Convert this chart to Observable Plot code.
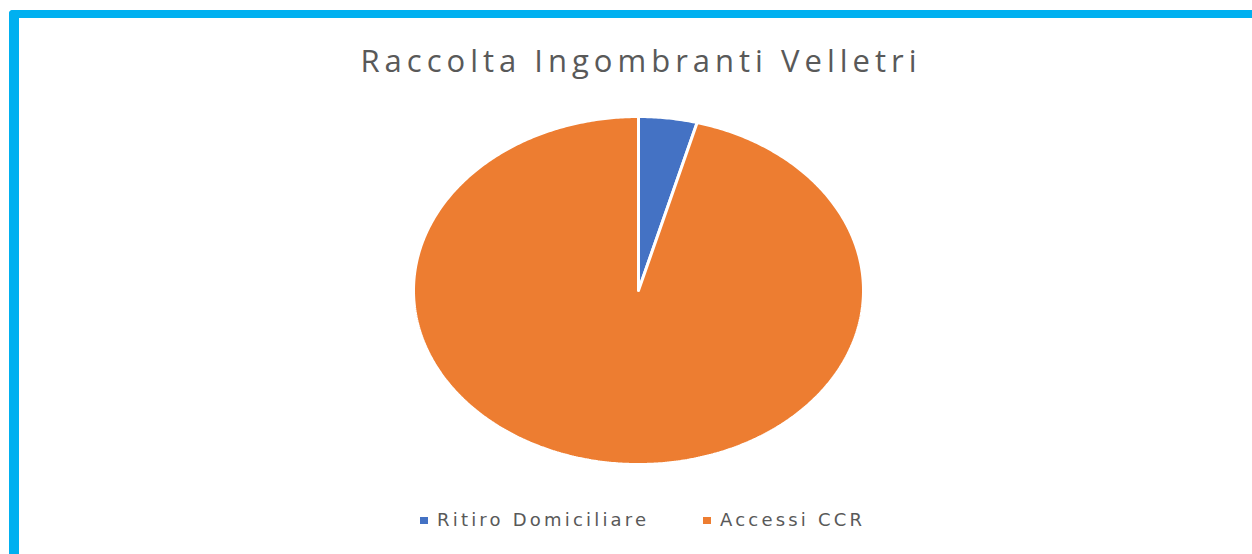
<!DOCTYPE html>
<html>
<head>
<meta charset="utf-8">
<script src="https://cdn.jsdelivr.net/npm/d3@7"></script>
<script src="https://cdn.jsdelivr.net/npm/@observablehq/plot@0.6"></script>
<style>
  html, body { margin: 0; padding: 0; background: #fff; width: 1252px; height: 554px; overflow: hidden; }
  #wrap { position: relative; width: 1252px; height: 554px; font-family: "Open Sans", sans-serif; }
  #frame { position: absolute; left: 9px; top: 10px; width: 1300px; height: 600px; border-left: 10px solid #00b0f0; border-top: 8px solid #00b0f0; border-top-left-radius: 4px; box-sizing: border-box; }
  #title { position: absolute; left: 0; width: 1282px; top: 39px; text-align: center; font-size: 31px; color: #595959; letter-spacing: 5px; white-space: nowrap; }
  #chart { position: absolute; left: 0; top: 0; }
  #legend { position: absolute; left: 0; top: 509px; width: 1252px; font-family: "DejaVu Sans", sans-serif; font-size: 18px; color: #595959; letter-spacing: 3.2px; white-space: nowrap; }
  .item { position: absolute; top: 0; }
  .sw { display: inline-block; width: 8px; height: 7px; margin-right: 9px; vertical-align: middle; position: relative; top: -1px; }
</style>
</head>
<body>
<div id="wrap">
  <div id="frame"></div>
  <div id="chart"></div>
  <div id="title"></div>
  <div id="legend"></div>
</div>
<script>
const title = "Raccolta Ingombranti Velletri";
const categories = ["Ritiro Domiciliare", "Accessi CCR"];
const values = [4.2, 95.8];
const colors = ["#4472C4", "#ED7D31"];

const pie = d3.pie().sort(null).value(d => d.value);
const arcs = pie(categories.map((c, i) => ({category: c, value: values[i]})));

// wedge outlines in unit-circle coordinates (angle measured clockwise from top)
const pts = [];
for (const a of arcs) {
  const c = a.data.category;
  pts.push({category: c, x: 0, y: 0});
  const n = Math.max(4, Math.ceil((a.endAngle - a.startAngle) / 0.01));
  for (let k = 0; k <= n; k++) {
    const t = a.startAngle + (a.endAngle - a.startAngle) * k / n;
    pts.push({category: c, x: Math.sin(t), y: Math.cos(t)});
  }
  pts.push({category: c, x: 0, y: 0});
}

const chart = Plot.plot({
  width: 1252,
  height: 554,
  margin: 0,
  x: {domain: [-1, 1], range: [413, 863], axis: null},
  y: {domain: [-1, 1], range: [464, 116], axis: null},
  color: {domain: categories, range: colors},
  marks: [
    Plot.line(pts, {x: "x", y: "y", z: "category", fill: "category", stroke: "#fff", strokeWidth: 3, strokeLinejoin: "miter", curve: "linear"})
  ]
});
document.getElementById("chart").appendChild(chart);

document.getElementById("title").textContent = title;
const leg = document.getElementById("legend");
const legendLeft = [420, 703];
categories.forEach((c, i) => {
  const it = document.createElement("span");
  it.className = "item";
  it.style.left = legendLeft[i] + "px";
  const sw = document.createElement("span");
  sw.className = "sw";
  sw.style.background = colors[i];
  it.appendChild(sw);
  it.appendChild(document.createTextNode(c));
  leg.appendChild(it);
});
</script>
</body>
</html>
